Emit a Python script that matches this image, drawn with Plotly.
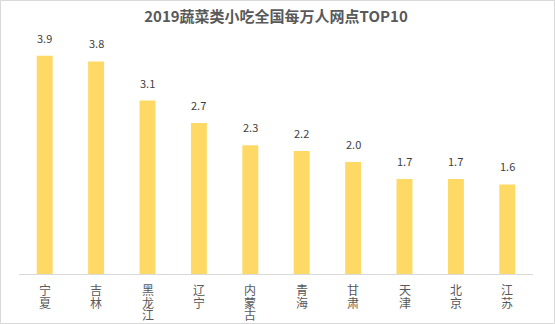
import plotly.graph_objects as go

categories = ["宁夏", "吉林", "黑龙江", "辽宁", "内蒙古", "青海", "甘肃", "天津", "北京", "江苏"]
values = [3.9, 3.8, 3.1, 2.7, 2.3, 2.2, 2.0, 1.7, 1.7, 1.6]
title = "2019蔬菜类小吃全国每万人网点TOP10"

W, H = 555, 324
ml, mr, mt, mb = 19, 22, 39, 50
pw, ph = W - ml - mr, H - mt - mb
FONT = "Noto Sans CJK SC"
PITCH = 12.7

fig = go.Figure()
fig.add_trace(go.Bar(
    x=categories, y=values,
    marker=dict(color="#FFD966", line=dict(width=0)),
    hoverinfo="skip",
))

for c, v in zip(categories, values):
    fig.add_annotation(x=c, y=v, text=f"{v:.1f}", showarrow=False,
                       yanchor="bottom", yshift=8,
                       font=dict(size=11, color="#404040", family=FONT))
    # vertical category label, one character per line (tight line pitch as in the reference)
    for i, ch in enumerate(c):
        fig.add_annotation(x=c, xref="x", y=0, yref="paper", text=ch,
                           showarrow=False, yanchor="top", borderpad=0,
                           yshift=-6 - i * PITCH,
                           font=dict(size=12, color="#595959", family=FONT))

fig.add_shape(type="rect", xref="paper", yref="paper",
              x0=(0.5 - ml) / pw, x1=(W - 0.5 - ml) / pw,
              y0=-(mb - 0.5) / ph, y1=(H - 0.5 - mb) / ph,
              line=dict(color="#D9D9D9", width=1), fillcolor="rgba(0,0,0,0)")

fig.update_layout(
    width=W, height=H,
    margin=dict(l=ml, r=mr, t=mt, b=mb, autoexpand=False),
    paper_bgcolor="white", plot_bgcolor="white",
    bargap=0.69,
    showlegend=False,
    title=dict(text=f"<b>{title}</b>", x=0.5, xref="paper", xanchor="center",
               y=1 - 17 / H, yanchor="middle",
               font=dict(size=15, color="#595959", family=FONT)),
    xaxis=dict(showticklabels=False, automargin=False,
               showline=True, linecolor="#D9D9D9", linewidth=1,
               ticks="", showgrid=False, fixedrange=True),
    yaxis=dict(range=[0, 4.2], visible=False, showgrid=False, zeroline=False,
               automargin=False),
)

fig.write_html("out.html")
